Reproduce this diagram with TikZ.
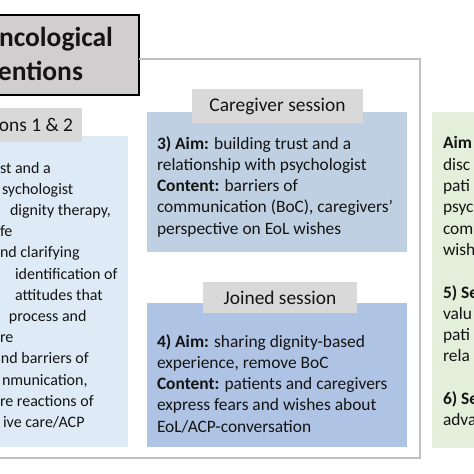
\documentclass[tikz,border=0pt]{standalone}
\usepackage{fontspec}
\setmainfont{Carlito}
\usetikzlibrary{positioning}
\definecolor{framegray}{HTML}{C0C0C0}
\definecolor{headgray}{HTML}{D9D9D9}
\definecolor{titlegray}{HTML}{D0CECE}
\definecolor{careblue}{HTML}{BFD0E2}
\definecolor{joinblue}{HTML}{AFC3E4}
\definecolor{paleblue}{HTML}{DEEBF7}
\definecolor{palegreen}{HTML}{E3EFDA}
\newcommand\bodyfont{\fontsize{17.4}{21.3}\selectfont}
\newcommand\sidefont{\fontsize{16}{21.2}\selectfont}
\newcommand\headfont{\fontsize{19.4}{23}\selectfont}
\newcommand\titlefont{\fontsize{27.5}{33}\selectfont\bfseries}
\begin{document}
\begin{tikzpicture}[x=1pt,y=-1pt,
	every node/.style={inner sep=0pt,outer sep=0pt,text=black!92},
	panel/.style={fill=#1,anchor=north west},
	head/.style={fill=headgray,font=\headfont,anchor=north west},
	body/.style={font=\bodyfont,align=left,anchor=north west},
	side/.style={font=\sidefont,align=left,anchor=north west}]
\useasboundingbox (0,0) rectangle (474,474);
\clip (0,0) rectangle (474,474);
\node[fill=titlegray,draw=black,line width=1.3pt,minimum width=200,minimum height=80,anchor=north east] (title) at (139,15) {};
\node[font=\titlefont,anchor=base west] (titleA) at (-1,46) {ncological};
\node[font=\titlefont,anchor=base west] (titleB) at (-2,80) {entions};
\coordinate (frame) at (420,458);
\node[panel=paleblue,minimum width=140,minimum height=311] (sidebox) at (-12,136) {};
\node[head,anchor=east,minimum height=34,inner xsep=9pt] (sidehead) at (82,125) {ons 1 \& 2};
\draw[framegray,line width=1.8pt] ([yshift=-4pt]title.east) -| (frame) -- (frame -| sidebox.west);
\node[side] (sidetext) at (0,158.2) {\strut st and a\\
\hspace*{2pt}sychologist\\
\hspace*{10pt}dignity therapy,\\
fe\\
nd clarifying\\
\hspace*{15pt}identification of\\
\hspace*{15pt}attitudes that\\
\hspace*{9pt}process and\\
re\\
\hspace*{1pt}nd barriers of\\
\hspace*{2pt}nmunication,\\
re reactions of\\
\hspace*{3pt}ive care/ACP};
\node[panel=careblue,minimum width=260,minimum height=140] (care) at (147,112) {};
\node[head,minimum width=171,minimum height=34] (carehead) at (192,89) {Caregiver session};
\node[body] (caretext) at (157,134.1) {\strut\textbf{3) Aim:} building trust and a\\
relationship with psychologist\\
\textbf{Content:} barriers of\\
communication (BoC), caregivers'\\
perspective on EoL wishes};
\node[panel=joinblue,minimum width=260,minimum height=144] (join) at (147,303) {};
\node[head,minimum width=154,minimum height=31] (joinhead) at (203,282) {Joined session};
\node[body] (jointext) at (157,332.1) {\strut\textbf{4) Aim:} sharing dignity-based\\
experience, remove BoC\\
\textbf{Content:} patients and caregivers\\
express fears and wishes about\\
EoL/ACP-conversation};
\node[panel=palegreen,minimum width=60,minimum height=336] (aimbox) at (432,112) {};
\node[body] (aimtext) at (443,134) {\strut\textbf{Aim}\\
disc\\
pati\\
psyc\\
com\\
wish\\[21.3pt]
\textbf{5) Se}\\
valu\\
pati\\
rela\\[21.3pt]
\textbf{6) Se}\\
adva};
\end{tikzpicture}
\end{document}
